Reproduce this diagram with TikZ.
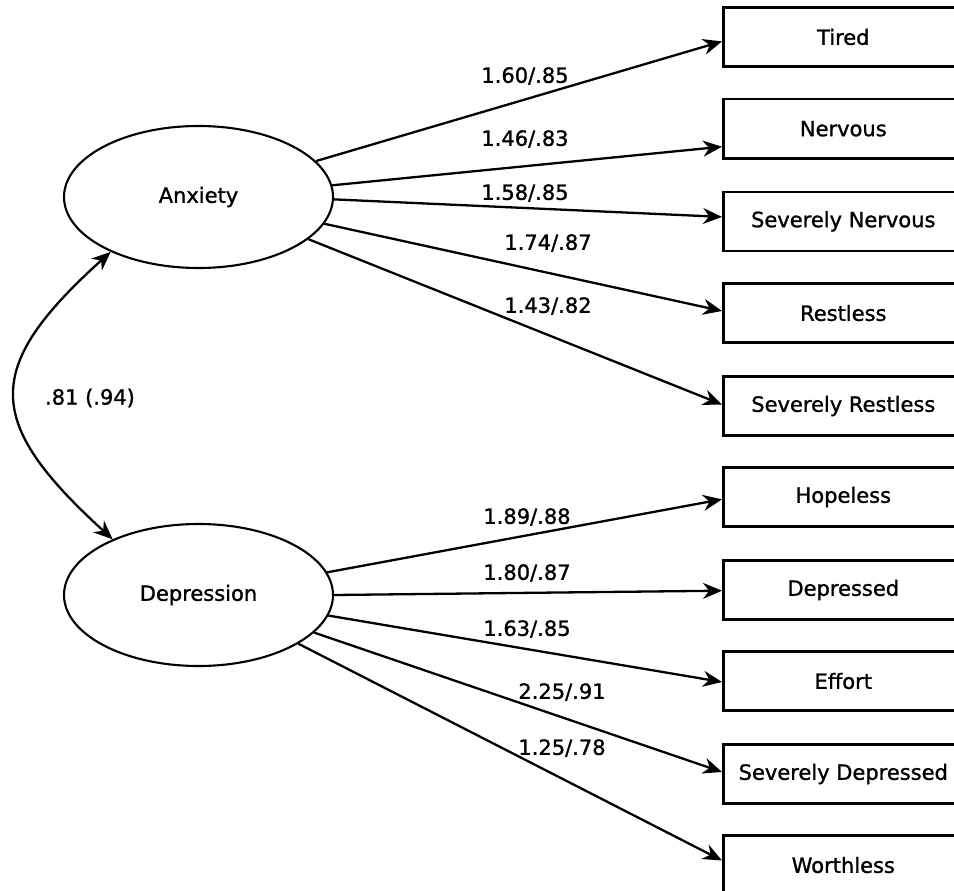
\documentclass[tikz,border=0pt]{standalone}
\usepackage{fontspec}
\setmainfont{DejaVu Sans}
\newfontfamily\reffont{DejaVu Sans}[FakeBold=1.2]
\usetikzlibrary{shapes.geometric,arrows.meta}
\begin{document}
\begin{tikzpicture}[x=1pt,y=-1pt,
  txt/.style={font=\reffont\fontsize{21}{25}\selectfont},
  latent/.style={draw, ellipse, line width=2.1pt, minimum width=269pt, minimum height=142pt, inner sep=0pt, txt},
  obs/.style={draw, rectangle, line width=2.6pt, minimum width=240pt, minimum height=59pt, inner sep=0pt, anchor=west, txt},
  load/.style={line width=2.3pt, -{Stealth[length=19pt,width=16pt]}},
  lab/.style={inner sep=0pt, txt}]
\fill[white] (0,0) rectangle (954,891);
\useasboundingbox (0,0) rectangle (954,891);

\node[latent] (anx) at (198.5,197) {Anxiety};
\node[latent] (dep) at (198.5,595) {Depression};

\node[obs] (tired) at (722,37)    {Tired};
\node[obs] (nerv)  at (722,128.7) {Nervous};
\node[obs] (snerv) at (722,221.4) {Severely Nervous};
\node[obs] (rest)  at (722,313)   {Restless};
\node[obs] (srest) at (722,406)   {Severely Restless};
\node[obs] (hope)  at (722,497)   {Hopeless};
\node[obs] (depd)  at (722,590)   {Depressed};
\node[obs] (eff)   at (722,681)   {Effort};
\node[obs] (sdep)  at (722,774)   {Severely Depressed};
\node[obs] (worth) at (722,865)   {Worthless};

\draw[load] (anx.17.5) -- ([yshift=-4.4pt]tired.west);
\draw[load] (anx.5)    -- ([yshift=-18pt]nerv.west);
\draw[load] (anx.-1.7) -- ([yshift=4.5pt]snerv.west);
\draw[load] (anx.-12.5) -- ([yshift=2pt]rest.west);
\draw[load] (anx.-21.8) -- ([yshift=1.5pt]srest.west);

\draw[load] (dep.10.6) -- ([yshift=-2.3pt]hope.west);
\draw[load] (dep.0)    -- ([yshift=-0.7pt]depd.west);
\draw[load] (dep.-9.4) -- ([yshift=-1pt]eff.west);
\draw[load] (dep.-18.9) -- ([yshift=2pt]sdep.west);
\draw[load] (dep.-26.6) -- ([yshift=4.5pt]worth.west);

\draw[line width=2.3pt, {Stealth[length=19pt,width=16pt]}-{Stealth[length=19pt,width=16pt]}]
  (anx.212) .. controls (-18,368) and (-16,422) .. (dep.147);

\node[lab] (l1)  at (525,76)  {1.60/.85};
\node[lab] (l2)  at (525,139) {1.46/.83};
\node[lab] (l3)  at (525,193) {1.58/.85};
\node[lab] (l4)  at (548,243) {1.74/.87};
\node[lab] (l5)  at (548,306) {1.43/.82};
\node[lab] (l6)  at (527,517) {1.89/.88};
\node[lab] (l7)  at (527,573) {1.80/.87};
\node[lab] (l8)  at (527,629) {1.63/.85};
\node[lab] (l9)  at (562,692) {2.25/.91};
\node[lab] (l10) at (562,748) {1.25/.78};
\node[lab] (cov) at (90,398)  {.81 (.94)};
\end{tikzpicture}
\end{document}
